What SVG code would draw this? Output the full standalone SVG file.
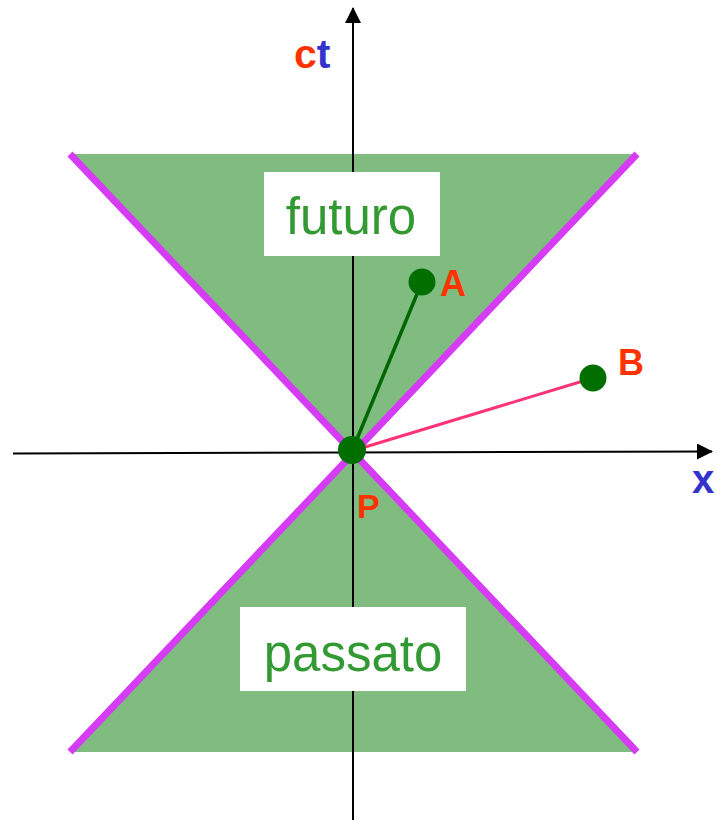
<svg xmlns="http://www.w3.org/2000/svg" width="716" height="820" viewBox="0 0 716 820">
<style>
.cone{fill:#80bb80;stroke:none}
.light{stroke:#d63cf5;stroke-width:7;fill:none}
.axis{stroke:#000;stroke-width:2;fill:none}
.dot{fill:#006f00}
.lbl{font-family:"Liberation Sans",Arial,sans-serif;font-weight:bold;fill:#ff3300}
.region{font-family:"Liberation Sans",Arial,sans-serif;font-size:51px;fill:#339933;text-anchor:middle}
.box{fill:#fff}
</style>
<defs>
<marker id="arr" markerWidth="16" markerHeight="16" refX="15" refY="8" orient="auto" markerUnits="userSpaceOnUse">
<path d="M0,0 L16,8 L0,16 Z" fill="#000"/>
</marker>
</defs>
<rect width="716" height="820" fill="#fff"/>
<g id="cones">
<polygon class="cone" points="70,154 637,154 352,451"/>
<polygon class="cone" points="70,752 637,752 352,451"/>
</g>
<g id="axes">
<line class="axis" x1="353" y1="820" x2="353" y2="8" marker-end="url(#arr)"/>
<line class="axis" x1="13" y1="453.5" x2="712" y2="451.5" marker-end="url(#arr)"/>
<text class="lbl" x="294" y="68" font-size="41"><tspan fill="#ff3300">c</tspan><tspan fill="#3333cc">t</tspan></text>
<text class="lbl" x="692" y="493" font-size="40" style="fill:#3333cc">x</text>
</g>
<g id="lightlines">
<line class="light" x1="70" y1="154" x2="637" y2="752"/>
<line class="light" x1="637" y1="154" x2="70" y2="752"/>
</g>
<g id="futuro">
<rect class="box" x="264" y="172" width="176" height="84"/>
<text class="region" x="351" y="234">futuro</text>
</g>
<g id="passato">
<rect class="box" x="240" y="607" width="226" height="84"/>
<text class="region" x="353" y="671">passato</text>
</g>
<g id="connectors">
<line x1="352" y1="451" x2="422" y2="282" stroke="#006600" stroke-width="3.5"/>
<line x1="352" y1="451" x2="593" y2="378" stroke="#ff3377" stroke-width="3"/>
</g>
<g id="P">
<circle class="dot" cx="352" cy="450" r="14"/>
<text class="lbl" x="357" y="518" font-size="34">P</text>
</g>
<g id="A">
<circle class="dot" cx="422" cy="282" r="13.5"/>
<text class="lbl" x="440" y="296" font-size="36">A</text>
</g>
<g id="B">
<circle class="dot" cx="593" cy="378" r="13.5"/>
<text class="lbl" x="618" y="375" font-size="36">B</text>
</g>
</svg>
